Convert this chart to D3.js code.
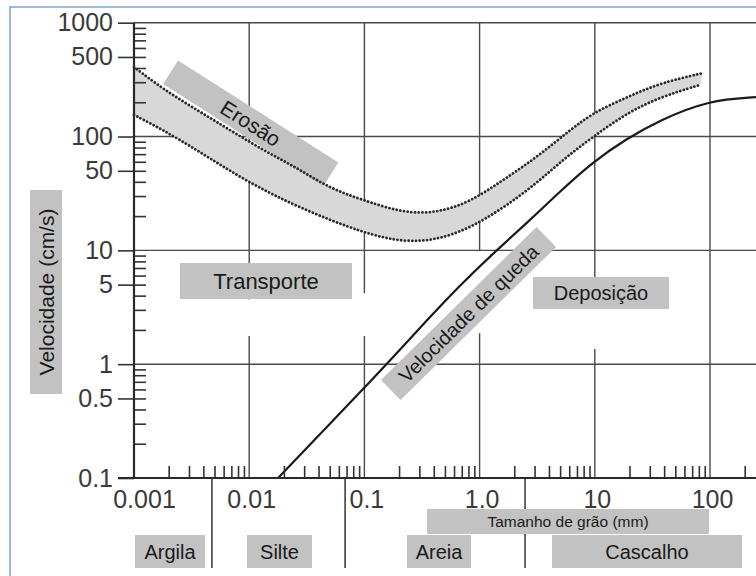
<!DOCTYPE html>
<html>
<head>
<meta charset="utf-8">
<script src="https://cdn.jsdelivr.net/npm/d3@7"></script>
<style>
  body { margin: 0; background: #fff; }
  svg text { font-family: "Liberation Sans", Arial, sans-serif; }
</style>
</head>
<body>
<div id="chart"></div>
<script>
// grain size (mm) / velocity (cm/s)
const erosionUpper = [
  [0.001, 408], [0.00179, 261], [0.00352, 171], [0.00681, 114], [0.0132, 76],
  [0.026, 53], [0.0502, 35], [0.097, 27.7], [0.216, 21.3], [0.427, 21.3],
  [0.826, 26.6], [1.6, 41.4], [3.15, 66], [6.1, 114], [9.6, 161],
  [19, 222], [36.8, 295], [87, 361]
];
const erosionLower = [
  [0.001, 155], [0.00179, 114], [0.00352, 76], [0.00957, 40], [0.0276, 23.5],
  [0.097, 14.2], [0.216, 11.8], [0.427, 12.3], [0.826, 15.7], [1.6, 23.5],
  [3.15, 39], [5.5, 64.7], [9.6, 99], [19, 161], [36.8, 222], [81.9, 284]
];
const fallVelocity = [
  [0.0178, 0.1], [0.097, 0.6], [0.177, 1.15], [0.349, 2.43], [0.676, 4.94],
  [1.31, 9.4], [2.58, 17.4], [4.6, 30.5], [9.6, 60], [18.7, 95],
  [36, 138], [98, 209], [251, 222]
];

const sizeTicks = [0.001, 0.01, 0.1, 1, 10, 100];
const sizeTickLabels = ["0.001", "0.01", "0.1", "1.0", "10", "100"];
const velTicks = [1000, 500, 100, 50, 10, 5, 1, 0.5, 0.1];
const velTickLabels = ["1000", "500", "100", "50", "10", "5", "1", "0.5", "0.1"];

// class limits on the size axis
const classBounds = [0.00475, 0.068, 2.48];
const classNames = ["Argila", "Silte", "Areia", "Cascalho"];

// grid lines, vertical ones with the gaps of the original
const hGrid = [1000, 100, 10, 1];
const vGrid = [
  { at: 0.01, spans: [[1000, 3.7], [1.77, 0.1]] },
  { at: 0.1, spans: [[1000, 4.2], [1.77, 0.1]] },
  { at: 1, spans: [[1000, 10], [1.87, 0.1]] },
  { at: 10, spans: [[1000, 3.05], [1.36, 0.1]] },
  { at: 100, spans: [[1000, 0.1]] }
];

const W = 756, H = 576;
const svg = d3.select("#chart").append("svg")
  .attr("width", W).attr("height", H);

svg.append("rect").attr("width", W).attr("height", H).attr("fill", "#fff");

// blue frame of the screenshot
svg.append("path")
  .attr("d", `M10,${H}V7H${W}`)
  .attr("fill", "none").attr("stroke", "#7aa6d8").attr("stroke-width", 1.6);

const x = d3.scaleLog().domain([0.001, 100]).range([134, 710]);
const y = d3.scaleLog().domain([0.1, 1000]).range([478, 22.7]);

// grid
const grid = svg.append("g").attr("stroke", "#4a4a4a").attr("stroke-width", 1.4);
grid.selectAll("line.h").data(hGrid).join("line")
  .attr("class", "h")
  .attr("x1", x(0.001)).attr("x2", W)
  .attr("y1", (d) => y(d)).attr("y2", (d) => y(d));
vGrid.forEach((g) => {
  grid.selectAll(null).data(g.spans).join("line")
    .attr("x1", x(g.at)).attr("x2", x(g.at))
    .attr("y1", (d) => y(d[0])).attr("y2", (d) => y(d[1]));
});

// class boundaries under the axis
svg.append("g").selectAll("line").data(classBounds).join("line")
  .attr("x1", (d) => x(d)).attr("x2", (d) => x(d))
  .attr("y1", y(0.1)).attr("y2", 568)
  .attr("stroke", "#333").attr("stroke-width", 1.5);

const line = d3.line().x((d) => x(d[0])).y((d) => y(d[1])).curve(d3.curveBasis);

// erosion band
const bandPath = line(erosionUpper) + "L" +
  line(erosionLower.slice().reverse()).slice(1) + "Z";
svg.append("path").attr("d", bandPath).attr("fill", "#d8d8d8");

// boxed annotations (layout only)
const boxFill = "#c2c2c2";
const flatBoxes = [
  { text: "Transporte", x: 180, y: 263, w: 172, h: 36, size: 22 },
  { text: "Deposição", x: 533, y: 277, w: 136, h: 32, size: 20 },
  { text: classNames[0], x: 135, y: 535, w: 70, h: 33, size: 20 },
  { text: classNames[1], x: 247, y: 535, w: 65, h: 33, size: 20 },
  { text: classNames[2], x: 407, y: 535, w: 64, h: 33, size: 20 },
  { text: classNames[3], x: 552, y: 535, w: 190, h: 33, size: 20 },
  { text: "Tamanho de grão (mm)", x: 427, y: 509, w: 282, h: 25, size: 15.5 }
];
const rotBoxes = [
  { text: "Velocidade (cm/s)", cx: 46, cy: 292, w: 204, h: 32, angle: -90, size: 21 },
  { text: "Erosão", cx: 250.7, cy: 123.3, w: 190, h: 28, angle: 32.5, size: 21 },
  { text: "Velocidade de queda", cx: 468.5, cy: 313.5, w: 218, h: 28, angle: -44.5, size: 20 }
];

const drawFlat = (g) => {
  g.append("rect").attr("x", (d) => d.x).attr("y", (d) => d.y)
    .attr("width", (d) => d.w).attr("height", (d) => d.h).attr("fill", boxFill);
  g.append("text").attr("x", (d) => d.x + d.w / 2).attr("y", (d) => d.y + d.h / 2)
    .attr("dy", "0.36em").attr("text-anchor", "middle")
    .attr("font-size", (d) => d.size).attr("fill", "#1a1a1a")
    .text((d) => d.text);
};
const drawRot = (g) => {
  g.attr("transform", (d) => `translate(${d.cx},${d.cy}) rotate(${d.angle})`);
  g.append("rect").attr("x", (d) => -d.w / 2).attr("y", (d) => -d.h / 2)
    .attr("width", (d) => d.w).attr("height", (d) => d.h).attr("fill", boxFill);
  g.append("text").attr("dy", "0.36em").attr("text-anchor", "middle")
    .attr("font-size", (d) => d.size).attr("fill", "#1a1a1a")
    .text((d) => d.text);
};

svg.append("g").selectAll("g").data(flatBoxes).join("g").call(drawFlat);
svg.append("g").selectAll("g").data(rotBoxes).join("g").call(drawRot);

// dotted limits of the erosion band
svg.append("g").selectAll("path").data([erosionUpper, erosionLower]).join("path")
  .attr("d", line)
  .attr("fill", "none").attr("stroke", "#2a2a2a").attr("stroke-width", 2.8)
  .attr("stroke-linecap", "round").attr("stroke-dasharray", "0.01 3.7");

// settling velocity curve
svg.append("path").datum(fallVelocity).attr("d", line)
  .attr("fill", "none").attr("stroke", "#1a1a1a").attr("stroke-width", 2.2);

// axes
const minor = [];
for (let e = -3; e <= 2; e += 1) {
  for (let k = 2; k <= 9; k += 1) minor.push(k * 10 ** e);
}
const styleAxis = (g) => {
  g.select(".domain").remove();
  g.selectAll("line").attr("stroke", "#333").attr("stroke-width", 1.6);
  g.selectAll("text").attr("font-family", "Liberation Sans, Arial, sans-serif")
    .attr("font-size", 25).attr("fill", "#3a3a3a");
};

svg.append("g").attr("transform", `translate(${x(0.001)},0)`)
  .call(d3.axisLeft(y).tickValues(velTicks).tickSize(16).tickPadding(5)
    .tickFormat((d, i) => velTickLabels[i]))
  .call(styleAxis);
svg.append("g").attr("transform", `translate(${x(0.001)},0)`)
  .call(d3.axisRight(y).tickValues(minor.filter((v) => v >= 0.1 && v <= 1000))
    .tickSize(12).tickFormat(""))
  .call(styleAxis);
svg.append("g").attr("transform", `translate(0,${y(0.1)})`)
  .call(d3.axisTop(x).tickValues(minor.filter((v) => x(v) < W)).tickSize(12).tickFormat(""))
  .call(styleAxis);
svg.append("g").attr("transform", `translate(0,${y(0.1)})`)
  .call(d3.axisBottom(x).tickValues(sizeTicks).tickSize(0).tickPadding(12)
    .tickFormat((d, i) => sizeTickLabels[i]))
  .call(styleAxis)
  .selectAll("text").attr("dx", (d, i) => (i === 0 ? 10 : 2));

// axis lines
svg.append("line").attr("x1", x(0.001)).attr("x2", x(0.001))
  .attr("y1", y(1000)).attr("y2", y(0.1))
  .attr("stroke", "#2a2a2a").attr("stroke-width", 2.2);
svg.append("line").attr("x1", x(0.001) - 16).attr("x2", W)
  .attr("y1", y(0.1)).attr("y2", y(0.1))
  .attr("stroke", "#2a2a2a").attr("stroke-width", 2);
</script>
</body>
</html>
